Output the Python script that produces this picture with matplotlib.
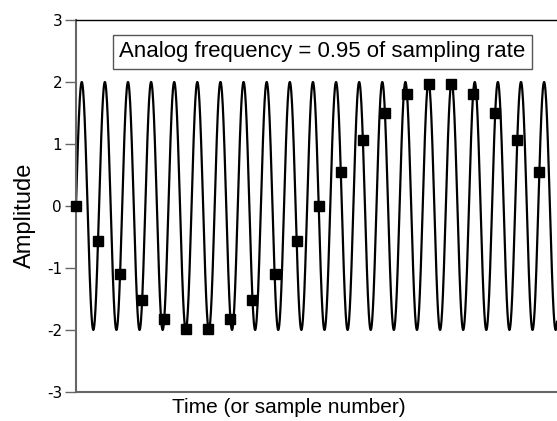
import matplotlib.pyplot as plt
import numpy as np

sample_n = list(range(22))
sample_vals = [0, -0.57, -1.1, -1.52, -1.82, -1.98, -1.98, -1.82, -1.52, -1.1, -0.57,
               0, 0.55, 1.06, 1.5, 1.8, 1.96, 1.96, 1.8, 1.5, 1.06, 0.55]

# continuous analog signal: amplitude and frequency (cycles per sample)
amplitude = 2.0
analog_freq = 0.9545
t_end = 21.8

yticks = [-3, -2, -1, 0, 1, 2, 3]
ytick_labels = ['-3', '-2', '-1', '0', '1', '2', '3']

fig = plt.figure(figsize=(5.57, 4.21), dpi=100)
ax = fig.add_axes([0.1364, 0.069, 0.8636, 0.8835])

t = np.linspace(0, t_end, 2000)
ax.plot(t, amplitude*np.sin(2*np.pi*analog_freq*t), color='black', lw=1.6, zorder=2)
ax.plot(sample_n, sample_vals, 's', color='black', ms=7, zorder=3, clip_on=False)

ax.set_xlim(0, t_end)
ax.set_ylim(-3, 3)
ax.set_xticks([])
ax.set_yticks(yticks)
ax.set_yticklabels(ytick_labels, family='DejaVu Sans', fontsize=11)
ax.tick_params(axis='y', direction='out', length=8, width=1, color='#666666', pad=2)

for s in ['left', 'bottom']:
    ax.spines[s].set_color('#666666')
    ax.spines[s].set_linewidth(1.5)
ax.spines['right'].set_visible(False)
ax.spines['top'].set_color('black')
ax.spines['top'].set_linewidth(1)

ax.set_xlabel('Time (or sample number)', family='Liberation Sans', fontsize=15)
ax.xaxis.set_label_coords(0.443, -0.015)
ax.set_ylabel('Amplitude', family='Liberation Sans', fontsize=17)
ax.yaxis.set_label_coords(-0.083, 0.475)

ax.text(0.5125, 0.914, 'Analog frequency = 0.95 of sampling rate', transform=ax.transAxes,
        ha='center', va='center', family='Liberation Sans', fontsize=16,
        bbox=dict(boxstyle='square,pad=0.28', fc='white', ec='#555555', lw=1), zorder=4)

fig.savefig('out.png', dpi=100)
